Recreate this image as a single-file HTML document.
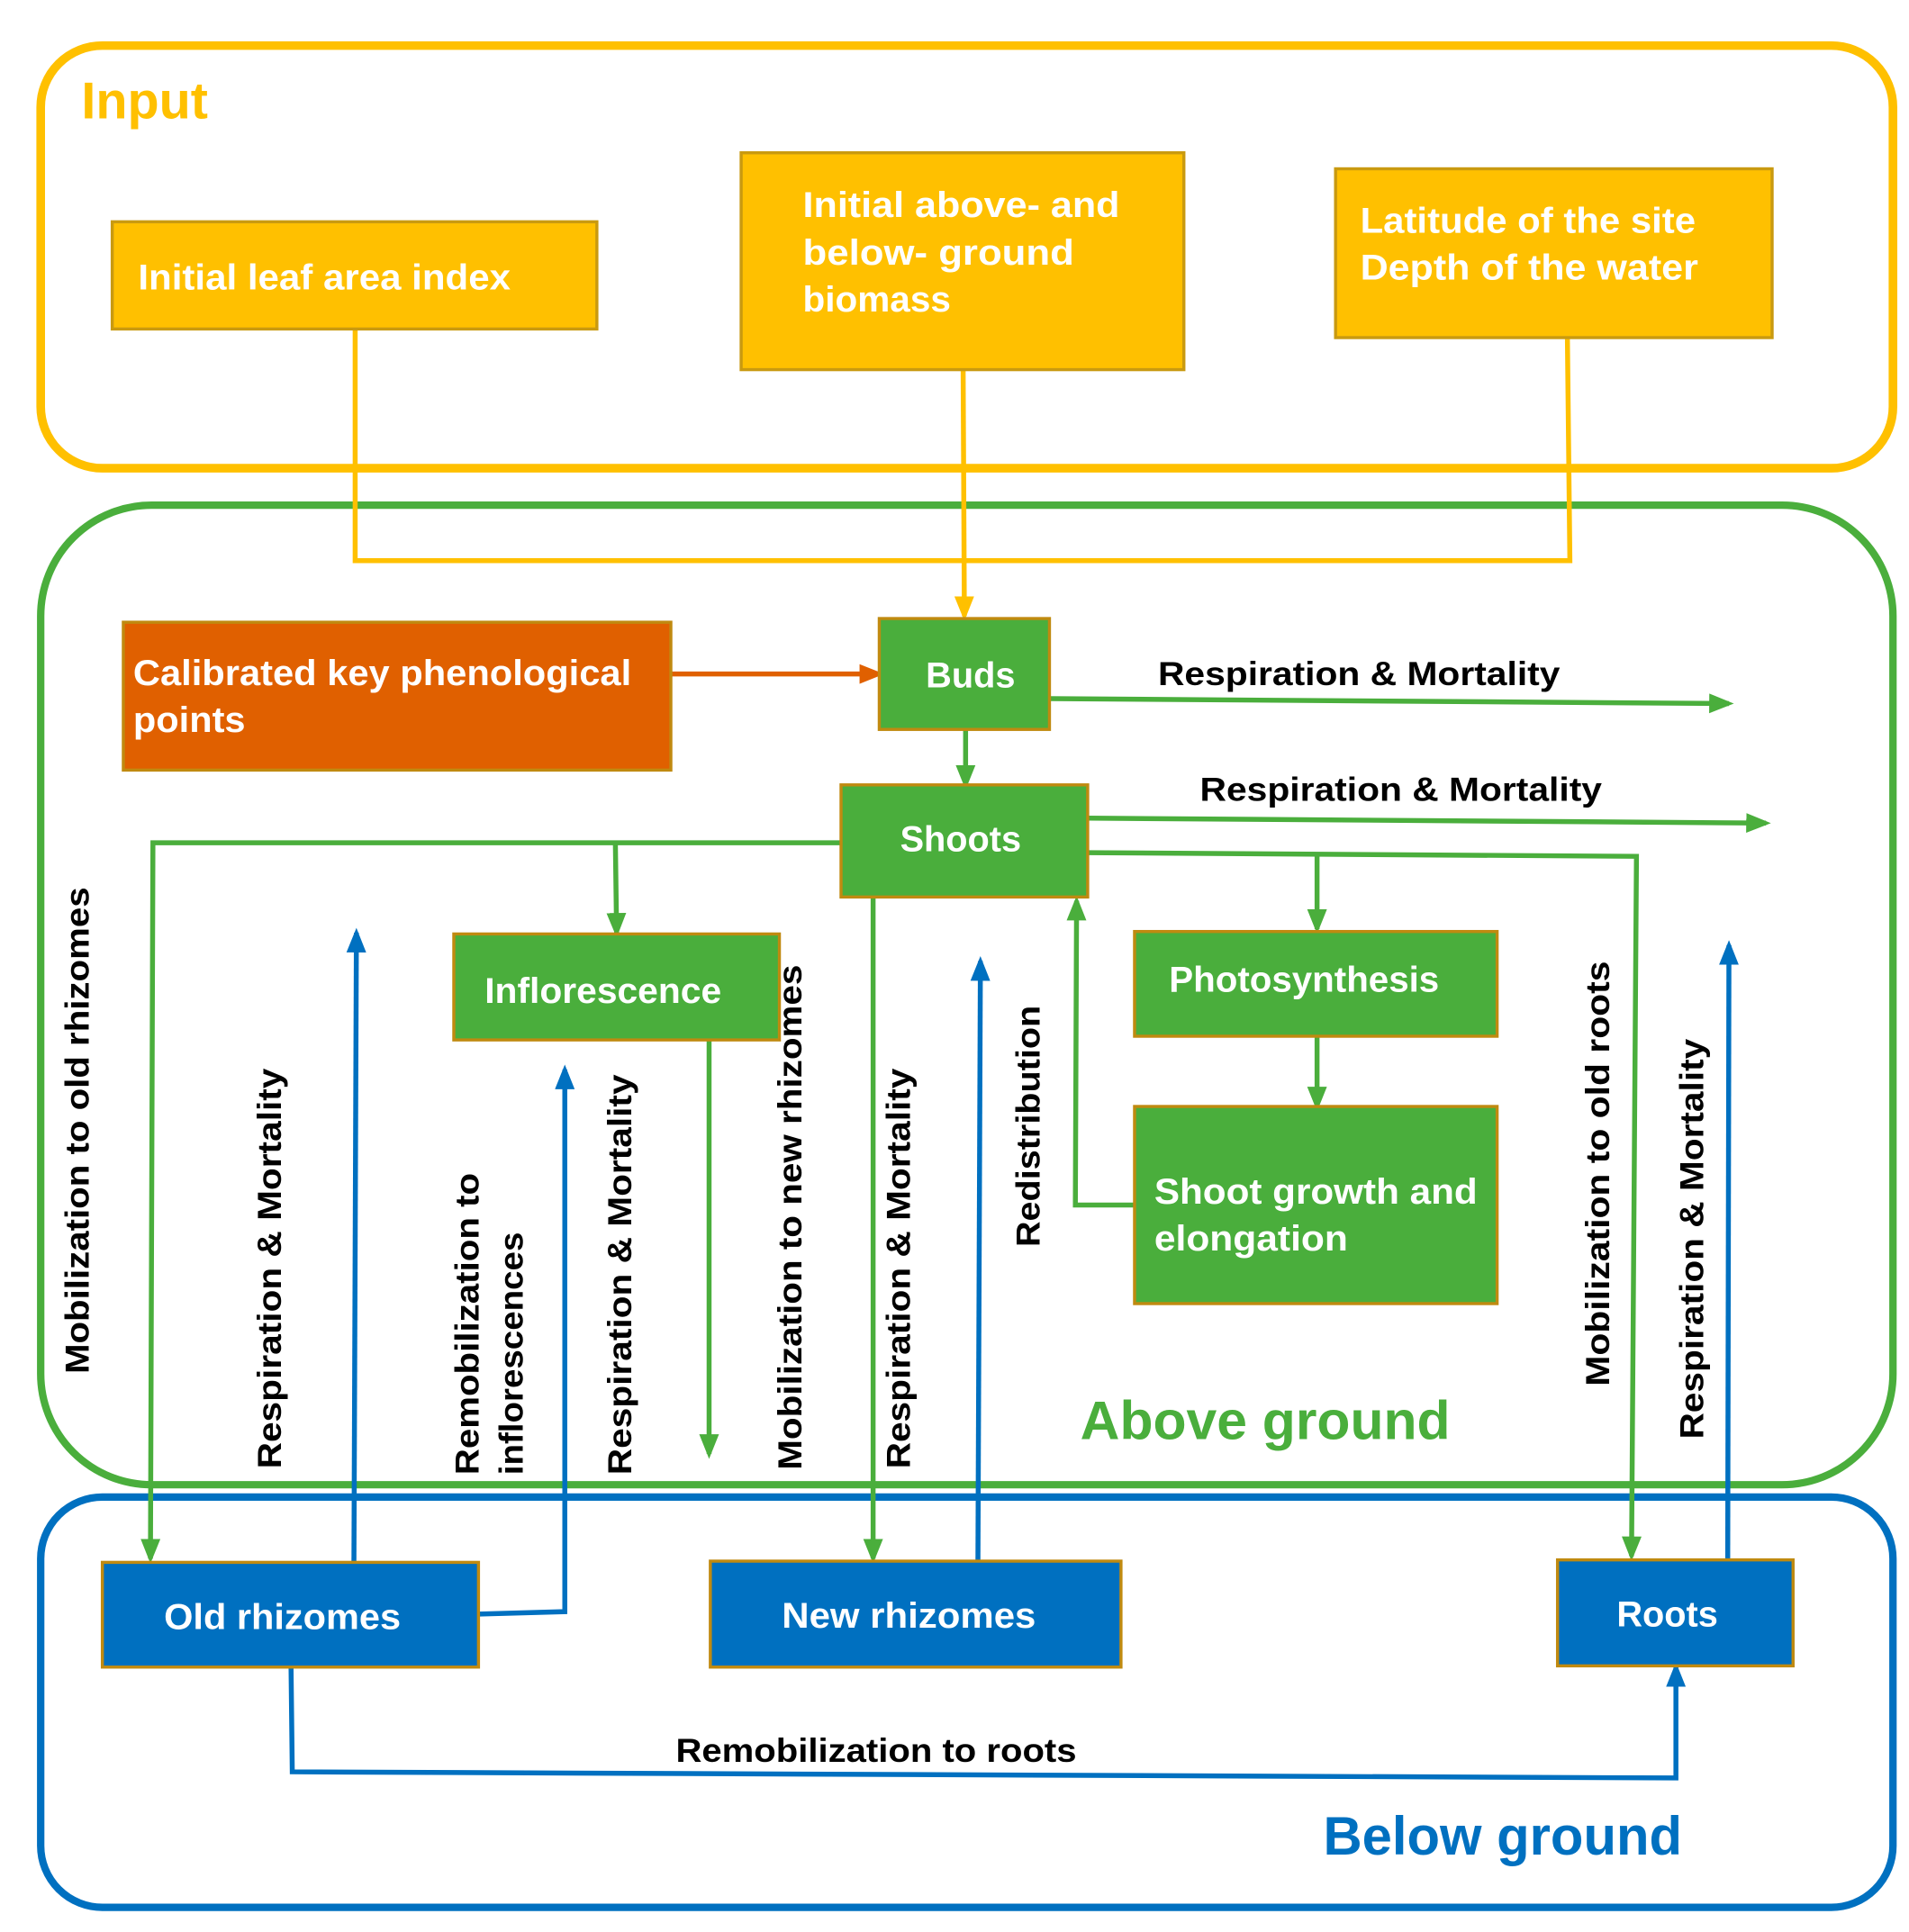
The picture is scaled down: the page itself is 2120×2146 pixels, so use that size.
<!DOCTYPE html>
<html><head><meta charset="utf-8"><style>html,body{margin:0;padding:0;background:#fff}svg{display:block}</style></head>
<body>
<svg width="2120" height="2146" viewBox="0 0 1548 1568" preserveAspectRatio="none" xmlns="http://www.w3.org/2000/svg" font-family="Liberation Sans, sans-serif">
<defs>
<marker id="ag" markerWidth="20" markerHeight="16" refX="16" refY="8" orient="auto" markerUnits="userSpaceOnUse" viewBox="0 0 20 16"><path d="M0,0 L20,8 L0,16z" fill="#4AAE3C"/></marker>
<marker id="ay" markerWidth="20" markerHeight="16" refX="16" refY="8" orient="auto" markerUnits="userSpaceOnUse" viewBox="0 0 20 16"><path d="M0,0 L20,8 L0,16z" fill="#FFC000"/></marker>
<marker id="ao" markerWidth="20" markerHeight="16" refX="16" refY="8" orient="auto" markerUnits="userSpaceOnUse" viewBox="0 0 20 16"><path d="M0,0 L20,8 L0,16z" fill="#E06000"/></marker>
<marker id="ab" markerWidth="20" markerHeight="16" refX="16" refY="8" orient="auto" markerUnits="userSpaceOnUse" viewBox="0 0 20 16"><path d="M0,0 L20,8 L0,16z" fill="#0070C0"/></marker>
</defs>
<g fill="none">
<rect x="33" y="37" width="1502" height="343" rx="50" stroke="#FFC000" stroke-width="7"/>
<rect x="33" y="410" width="1502" height="795" rx="90" stroke="#4AAE3C" stroke-width="6"/>
<rect x="33" y="1215" width="1502" height="333" rx="50" stroke="#0070C0" stroke-width="6"/>
</g>
<text x="66" y="96" font-size="42" font-weight="bold" fill="#FFC000">Input</text>
<text x="876" y="1168" font-size="44" font-weight="bold" fill="#4AAE3C" textLength="300" lengthAdjust="spacingAndGlyphs">Above ground</text>
<text x="1073" y="1505" font-size="44" fill="#0070C0" font-weight="bold" textLength="291" lengthAdjust="spacingAndGlyphs">Below ground</text>

<g stroke="#FFC000" stroke-width="4" fill="none">
<polyline points="288,267 288,455 1273,455 1271,274"/>
<line x1="781" y1="300" x2="782" y2="500" marker-end="url(#ay)"/>
</g>
<g stroke="#C99A10" stroke-width="2.5" fill="#FFC000">
<rect x="91" y="180" width="393" height="87"/>
<rect x="601" y="124" width="359" height="176"/>
<rect x="1083" y="137" width="354" height="137"/>
</g>
<g fill="#fff" font-size="29" font-weight="bold">
<text x="112" y="235" textLength="302" lengthAdjust="spacingAndGlyphs">Initial leaf area index</text>
<text x="651" y="176" textLength="257" lengthAdjust="spacingAndGlyphs">Initial above- and</text>
<text x="651" y="215" textLength="220" lengthAdjust="spacingAndGlyphs">below- ground</text>
<text x="651" y="253" textLength="120" lengthAdjust="spacingAndGlyphs">biomass</text>
<text x="1103" y="189" textLength="272" lengthAdjust="spacingAndGlyphs">Latitude of the site</text>
<text x="1103" y="227" textLength="274" lengthAdjust="spacingAndGlyphs">Depth of the water</text>
</g>

<g stroke="#4AAE3C" stroke-width="4" fill="none">
<line x1="851" y1="567" x2="1402" y2="571" marker-end="url(#ag)"/>
<line x1="783" y1="592" x2="783" y2="637" marker-end="url(#ag)"/>
<line x1="882" y1="664" x2="1432" y2="668" marker-end="url(#ag)"/>
<polyline points="682,684 124,684 122,1265" marker-end="url(#ag)"/>
<polyline points="499,684 500,757" marker-end="url(#ag)"/>
<line x1="575" y1="844" x2="575" y2="1180" marker-end="url(#ag)"/>
<polyline points="882,692 1327,695 1323,1263" marker-end="url(#ag)"/>
<line x1="1068" y1="695" x2="1068" y2="754" marker-end="url(#ag)"/>
<line x1="1068" y1="841" x2="1068" y2="898" marker-end="url(#ag)"/>
<polyline points="920,978 872,978 873,731" marker-end="url(#ag)"/>
<line x1="708" y1="728" x2="708" y2="1265" marker-end="url(#ag)"/>
</g>
<line x1="544" y1="547" x2="713" y2="547" stroke="#E06000" stroke-width="4" marker-end="url(#ao)"/>
<g stroke="#0070C0" stroke-width="4" fill="none">
<line x1="287" y1="1268" x2="289" y2="757" marker-end="url(#ab)"/>
<polyline points="388,1310 458,1308 458,868" marker-end="url(#ab)"/>
<line x1="793" y1="1267" x2="795" y2="780" marker-end="url(#ab)"/>
<line x1="1401" y1="1266" x2="1402" y2="767" marker-end="url(#ab)"/>
<polyline points="236,1353 237,1438 1359,1443 1359,1353" marker-end="url(#ab)"/>
</g>

<rect x="100" y="505" width="444" height="120" fill="#E06000" stroke="#C08A10" stroke-width="2.5"/>
<g fill="#4AAE3C" stroke="#C08A10" stroke-width="2.5">
<rect x="713" y="502" width="138" height="90"/>
<rect x="682" y="637" width="200" height="91"/>
<rect x="368" y="758" width="264" height="86"/>
<rect x="920" y="756" width="294" height="85"/>
<rect x="920" y="898" width="294" height="160"/>
</g>
<g fill="#0070C0" stroke="#C08A10" stroke-width="2.5">
<rect x="83" y="1268" width="305" height="85"/>
<rect x="576" y="1267" width="333" height="86"/>
<rect x="1263" y="1266" width="191" height="86"/>
</g>
<g fill="#fff" font-size="29" font-weight="bold">
<text x="108" y="556" textLength="404" lengthAdjust="spacingAndGlyphs">Calibrated key phenological</text>
<text x="108" y="594" textLength="91" lengthAdjust="spacingAndGlyphs">points</text>
<text x="787" y="558" text-anchor="middle">Buds</text>
<text x="779" y="691" text-anchor="middle">Shoots</text>
<text x="393" y="814" textLength="192" lengthAdjust="spacingAndGlyphs">Inflorescence</text>
<text x="948" y="805" textLength="219" lengthAdjust="spacingAndGlyphs">Photosynthesis</text>
<text x="936" y="977" textLength="262" lengthAdjust="spacingAndGlyphs">Shoot growth and</text>
<text x="936" y="1015" textLength="157" lengthAdjust="spacingAndGlyphs">elongation</text>
<text x="133" y="1322" textLength="192" lengthAdjust="spacingAndGlyphs">Old rhizomes</text>
<text x="634" y="1321" textLength="206" lengthAdjust="spacingAndGlyphs">New rhizomes</text>
<text x="1352" y="1320" text-anchor="middle">Roots</text>
</g>

<g fill="#000" font-size="27" font-weight="bold">
<text x="939" y="556" textLength="326" lengthAdjust="spacingAndGlyphs">Respiration &amp; Mortality</text>
<text x="973" y="650" textLength="326" lengthAdjust="spacingAndGlyphs">Respiration &amp; Mortality</text>
<text x="548" y="1430" textLength="325" lengthAdjust="spacingAndGlyphs">Remobilization to roots</text>
<text transform="translate(72,1115) rotate(-90)" textLength="395" lengthAdjust="spacingAndGlyphs">Mobilization to old rhizomes</text>
<text transform="translate(228,1192) rotate(-90)" textLength="325" lengthAdjust="spacingAndGlyphs">Respiration &amp; Mortality</text>
<text transform="translate(388,1197) rotate(-90)" textLength="245" lengthAdjust="spacingAndGlyphs">Remobilization to</text>
<text transform="translate(424,1197) rotate(-90)" textLength="197" lengthAdjust="spacingAndGlyphs">inflorescences</text>
<text transform="translate(512,1197) rotate(-90)" textLength="325" lengthAdjust="spacingAndGlyphs">Respiration &amp; Mortality</text>
<text transform="translate(650,1193) rotate(-90)" textLength="410" lengthAdjust="spacingAndGlyphs">Mobilization to new rhizomes</text>
<text transform="translate(738,1192) rotate(-90)" textLength="325" lengthAdjust="spacingAndGlyphs">Respiration &amp; Mortality</text>
<text transform="translate(843,1012) rotate(-90)" textLength="196" lengthAdjust="spacingAndGlyphs">Redistribution</text>
<text transform="translate(1305,1125) rotate(-90)" textLength="345" lengthAdjust="spacingAndGlyphs">Mobilization to old roots</text>
<text transform="translate(1381,1168) rotate(-90)" textLength="325" lengthAdjust="spacingAndGlyphs">Respiration &amp; Mortality</text>
</g>
</svg>
</body></html>
